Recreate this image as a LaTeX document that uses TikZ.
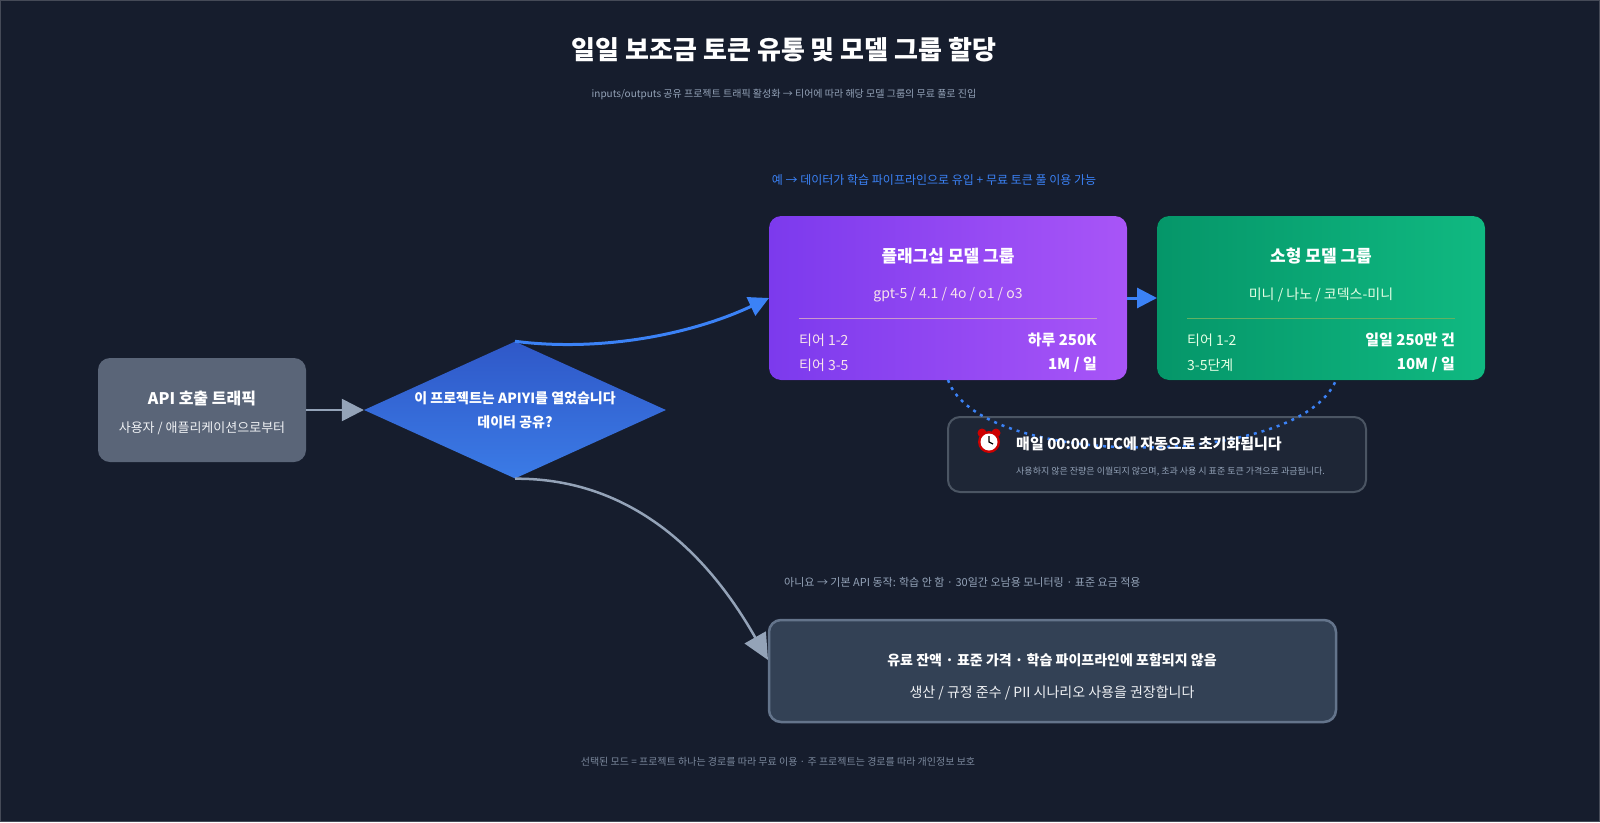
\documentclass[tikz,border=0pt]{standalone}
\usepackage{fontspec}
\setmainfont{Noto Sans CJK KR}
\usepackage{tikz}
\usetikzlibrary{shapes,arrows.meta,positioning}
\definecolor{bgc}{HTML}{161D2D}
\definecolor{subc}{HTML}{94A3B8}
\definecolor{bluc}{HTML}{3B82F6}
\definecolor{srcc}{HTML}{5A6578}
\tikzset{card/.style={rounded corners=12pt, inner sep=0pt},
  edge/.style={line width=2.5pt, color=subc}}

\begin{document}
\begin{tikzpicture}[x=1pt,y=-1pt,every node/.style={inner sep=0pt}]
                \begin{scope}
                \fill[bgc] (0,0) rectangle (1600,822);
                \draw[white!20!bgc] (0.5,0.5) rectangle (1599.5,821.5);
                \useasboundingbox (0,0) rectangle (1600,822);

                \node[text=white,font=\bfseries\fontsize{26}{30}\selectfont] (title) at (784,50) {일일 보조금 토큰 유통 및 모델 그룹 할당};
                \node[text=subc,font=\fontsize{10}{12}\selectfont] (sub) at (784,94) {inputs/outputs 공유 프로젝트 트래픽 활성화 → 티어에 따라 해당 모델 그룹의 무료 풀로 진입};

                % source
                \fill[card, fill=srcc] (98,358) rectangle (306,462);
                \node[text=white,font=\bfseries\fontsize{16}{18}\selectfont] (api) at (202,399) {API 호출 트래픽};
                \node[text=white!85!subc,font=\fontsize{13}{15}\selectfont] (apisub) at (202,428) {사용자 / 애플리케이션으로부터};
                \coordinate (apir) at (306,410);

                % decision
                \node[diamond, aspect=2.2, minimum width=302pt, minimum height=137pt, inner sep=0pt,
                  top color={rgb,255:red,47;green,88;blue,200}, bottom color={rgb,255:red,59;green,123;blue,230},
                  text=white, align=center, font=\bfseries\fontsize{14}{24}\selectfont] (dec) at (515,410)
                  {이 프로젝트는 APIYI를 열었습니다\\데이터 공유?};
                \draw[edge, -{Triangle[length=22pt,width=22pt]}] (apir) -- (dec.west);

                % yes branch
                \node[text=bluc,font=\fontsize{12}{14}\selectfont] (yes) at (934,180) {예 → 데이터가 학습 파이프라인으로 유입 + 무료 토큰 풀 이용 가능};
                \fill[card, left color={rgb,255:red,124;green,58;blue,237}, right color={rgb,255:red,168;green,85;blue,247}] (769,216) rectangle (1127,380);
                \node[text=white,font=\bfseries\fontsize{17}{20}\selectfont] (flag) at (948,256) {플래그십 모델 그룹};
                \node[text=white!90!purple,font=\fontsize{14}{16}\selectfont] (flagm) at (948,295) {gpt-5 / 4.1 / 4o / o1 / o3};
                \draw[white!60!violet] (799,318) -- (1097,318);
                \node[anchor=west,text=white!90!purple,font=\fontsize{14}{16}\selectfont] (f1) at (799,340) {티어 1-2};
                \node[anchor=east,text=white,font=\bfseries\fontsize{15}{17}\selectfont] (f1v) at (1097,340) {하루 250K};
                \node[anchor=west,text=white!90!purple,font=\fontsize{14}{16}\selectfont] (f2) at (799,365) {티어 3-5};
                \node[anchor=east,text=white,font=\bfseries\fontsize{15}{17}\selectfont] (f2v) at (1097,365) {1M / 일};
                \coordinate (flagw) at (769,298);
                \coordinate (flagr) at (1127,298);

                \fill[card, left color={rgb,255:red,5;green,150;blue,105}, right color={rgb,255:red,16;green,185;blue,129}] (1157,216) rectangle (1485,380);
                \node[text=white,font=\bfseries\fontsize{17}{20}\selectfont] (small) at (1321,256) {소형 모델 그룹};
                \node[text=white!90!green,font=\fontsize{14}{16}\selectfont] (smallm) at (1321,295) {미니 / 나노 / 코덱스-미니};
                \draw[white!55!green!70!black] (1187,318) -- (1455,318);
                \node[anchor=west,text=white!90!green,font=\fontsize{14}{16}\selectfont] (s1) at (1187,340) {티어 1-2};
                \node[anchor=east,text=white,font=\bfseries\fontsize{15}{17}\selectfont] (s1v) at (1455,340) {일일 250만 건};
                \node[anchor=west,text=white!90!green,font=\fontsize{14}{16}\selectfont] (s2) at (1187,365) {3-5단계};
                \node[anchor=east,text=white,font=\bfseries\fontsize{15}{17}\selectfont] (s2v) at (1455,365) {10M / 일};
                \coordinate (smallw) at (1157,298);

                \draw[bluc, line width=3pt, -{Triangle[length=20pt,width=20pt]}] (dec.north) .. controls (600,352) and (690,335) .. (flagw);
                \draw[bluc, line width=3pt, -{Triangle[length=20pt,width=20pt]}] (flagr) -- (smallw);

                % reset note
                \fill[card, fill={rgb,255:red,30;green,38;blue,54}, draw={rgb,255:red,75;green,85;blue,99}, line width=2pt] (948,417) rectangle (1366,492);
                \draw[bluc, line width=2.5pt, dash pattern=on 3pt off 5pt] (948,380) .. controls (980,470) and (1300,470) .. (1336,380);
                \begin{scope}[shift={(989,442)}]
                  \fill[red!80!black] (-7,-9) circle (4.5pt) (7,-9) circle (4.5pt);
                  \fill[red!80!black] (0,0) circle (11pt);
                  \fill[white] (0,0) circle (8.5pt);
                  \draw[black, line width=1.2pt] (0,-6) -- (0,0) -- (4,2);
                \end{scope}
                \node[anchor=west,text=white,font=\bfseries\fontsize{15}{17}\selectfont] (reset) at (1016,444) {매일 00:00 UTC에 자동으로 초기화됩니다};
                \node[anchor=west,text=subc,font=\fontsize{9}{11}\selectfont] (resetsub) at (1016,472) {사용하지 않은 잔량은 이월되지 않으며, 초과 사용 시 표준 토큰 가격으로 과금됩니다.};

                % no branch
                \node[anchor=west,text=subc,font=\fontsize{11}{13}\selectfont] (no) at (784,582) {아니요 → 기본 API 동작: 학습 안 함 · 30일간 오남용 모니터링 · 표준 요금 적용};
                \fill[card, fill={rgb,255:red,51;green,65;blue,85}, draw={rgb,255:red,100;green,116;blue,139}, line width=2.5pt] (769,620) rectangle (1336,722);
                \node[text=white,font=\bfseries\fontsize{14}{16}\selectfont] (paid) at (1052,660) {유료 잔액 · 표준 가격 · 학습 파이프라인에 포함되지 않음};
                \node[text=white!85!subc,font=\fontsize{14}{16}\selectfont] (paidsub) at (1052,693) {생산 / 규정 준수 / PII 시나리오 사용을 권장합니다};
                \coordinate (paidw) at (768,660);
                \draw[edge, -{Triangle[length=26pt,width=24pt]}] (dec.south) .. controls (620,478) and (700,540) .. (paidw);

                \node[text=subc!80!bgc,font=\fontsize{10}{12}\selectfont] (foot) at (778,762) {선택된 모드 = 프로젝트 하나는 경로를 따라 무료 이용 · 주 프로젝트는 경로를 따라 개인정보 보호};
                \end{scope}
            \end{tikzpicture}
\end{document}
